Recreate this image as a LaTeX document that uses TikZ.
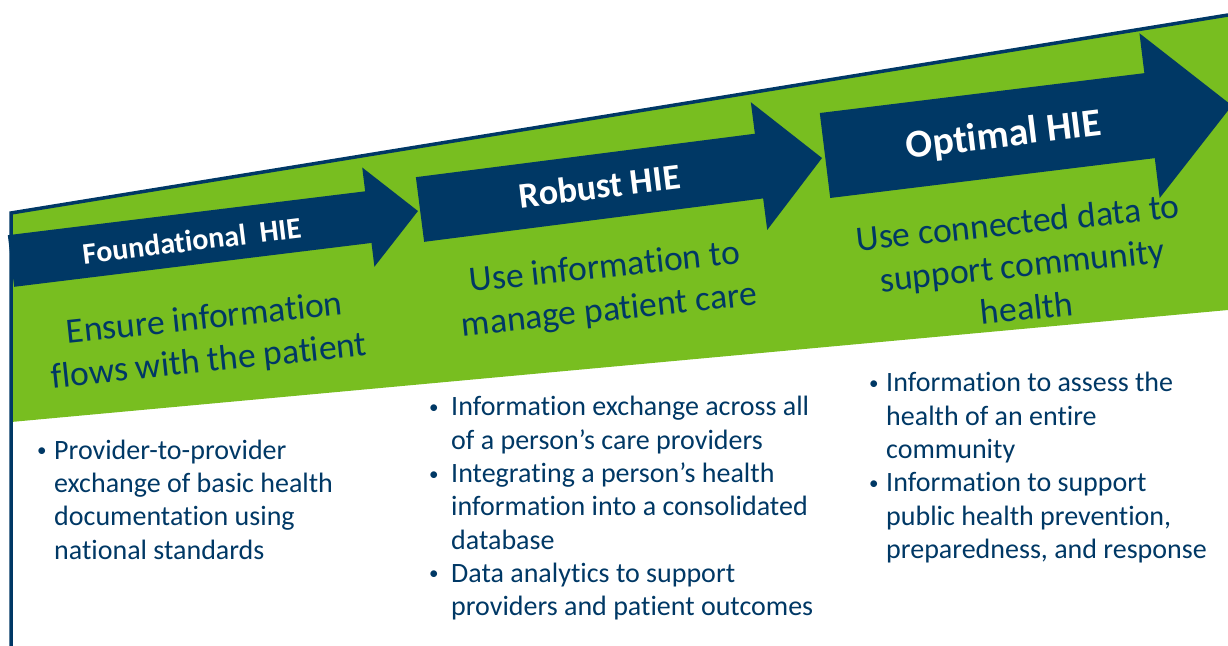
\documentclass[tikz,border=0pt]{standalone}
\usepackage{fontspec}
\setmainfont{Carlito}[Ligatures=NoCommon]
\definecolor{hiegreen}{RGB}{120,190,32}
\definecolor{hienavy}{RGB}{0,56,101}
\newlength\bulw
\newcommand\bi{\strut\makebox[\bulw][l]{\raisebox{2.5pt}{\fontsize{19}{19}\selectfont •}}}
\newcommand\ci{\strut\hspace*{\bulw}}
\tikzset{
  title/.style={text=white, font=\bfseries\fontsize{#1}{#1}\selectfont, rotate=7, anchor=base, inner sep=0pt},
  band/.style={text=hienavy, font=\fontsize{35.6}{43}\selectfont, align=center, rotate=6, inner sep=0pt},
  bul/.style={text=hienavy, font={\fontsize{28}{33.3}\selectfont\setlength\bulw{#1}}, align=left, anchor=north west, inner sep=0pt},
  border/.style={draw=hienavy, line width=3.5pt, line join=miter},
  pics/hiearrow/.style args={#1/#2/#3/#4}{code={
    \fill[hienavy] (0,-#2) -- ({#1-#4},-#2) -- ({#1-#4},-#3) -- (#1,0)
      -- ({#1-#4},#3) -- ({#1-#4},#2) -- (0,#2) -- cycle;
  }},
}
\begin{document}
\begin{tikzpicture}[x=1pt,y=-1pt]
\useasboundingbox (0,0) rectangle (1228,645);
\clip (0,0) rectangle (1228,645);
\coordinate (tl) at (11,213);
\coordinate (tr) at (1228,15);
\coordinate (br) at (1228,310);
\coordinate (bl) at (11,422);
\coordinate (bot) at (11,646);
\fill[hiegreen] (tl) -- (tr) -- (br) -- (bl) -- cycle;
% arrows
\pic[rotate=7] at (11,261) {hiearrow=410/26/50/50};
\pic[rotate=7.3] at (420,209.5) {hiearrow=405.3/32.6/64.4/63.5};
\pic[rotate=7] at (825,155.5) {hiearrow=410/42.8/83/83};
% border
\draw[border] (bot) -- (tl) -- (tr);
% titles
\node[title=30] (t1) at (193,251) {Foundational\ \ HIE};
\node[title=36] (t2) at (601,198.5) {Robust HIE};
\node[title=39.5] (t3) at (1005,147) {Optimal HIE};
% band texts
\node[band] (b1) at (207,341) {Ensure information\\flows with the patient};
\node[band] (b2) at (607,290) {Use information to\\manage patient care};
\node[band] (b3) at (1022,265) {Use connected data to\\support community\\health};
% bullets
\node[bul=17pt] (c1) at (37,435.7) {\bi Provider-to-provider\\\ci exchange of basic health\\\ci documentation using\\\ci national standards};
\node[bul=22pt] (c2) at (429,392.4) {\bi Information exchange across all\\\ci of a person’s care providers\\\bi Integrating a person’s health\\\ci information into a consolidated\\\ci database\\\bi Data analytics to support\\\ci providers and patient outcomes};
\node[bul=17pt] (c3) at (869,368.4) {\bi Information to assess the\\\ci health of an entire\\\ci community\\\bi Information to support\\\ci public health prevention,\\\ci preparedness, and response};
\end{tikzpicture}
\end{document}
